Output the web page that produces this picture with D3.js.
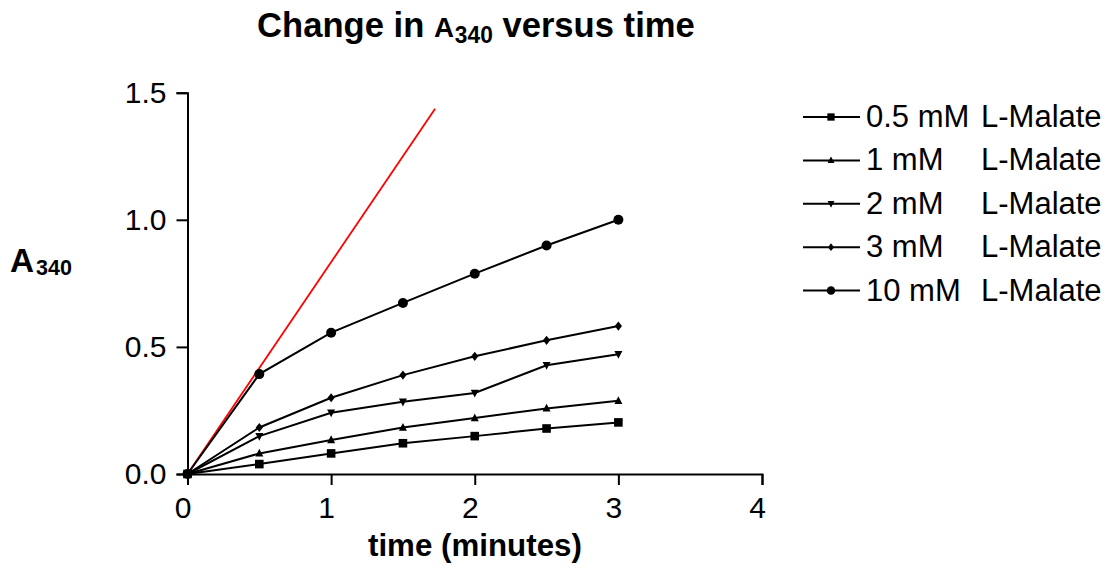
<!DOCTYPE html>
<html><head><meta charset="utf-8">
<script src="https://cdn.jsdelivr.net/npm/d3@7"></script>
<style>body{margin:0;background:#fff}svg{display:block}text{font-family:"Liberation Sans",Arial,sans-serif}</style>
</head><body>
<svg id="c" width="1109" height="568"></svg>
<script>
const times = [0, 0.5, 1, 1.5, 2, 2.5, 3];
const s05 = [0, 0.039, 0.081, 0.121, 0.149, 0.179, 0.203];
const s1  = [0, 0.081, 0.134, 0.183, 0.220, 0.258, 0.288];
const s2  = [0, 0.149, 0.241, 0.284, 0.319, 0.428, 0.471];
const s3  = [0, 0.183, 0.300, 0.389, 0.463, 0.526, 0.582];
const s10 = [0, 0.393, 0.556, 0.673, 0.788, 0.899, 1.000];
const seriesNames = ["0.5 mM", "1 mM", "2 mM", "3 mM", "10 mM"];
const seriesSuffix = "L-Malate";
const seriesValues = [s05, s1, s2, s3, s10];
const seriesSymbols = ["square", "triangle", "invtriangle", "diamond", "circle"];
const redLineX = [0, 1.724];
const redLineY = [0, 1.437];
const xTicks = [0, 1, 2, 3, 4];
const yTicks = [0, 0.5, 1.0, 1.5];

const svg = d3.select("#c");
const L = 187.5, R = 762, T = 92.7, B = 474;
const x = d3.scaleLinear().domain([0, 4]).range([L, R]);
const y = d3.scaleLinear().domain([0, 1.5]).range([B, T]);

function fitX(sel, x0, w) {
  const bb = sel.node().getBBox();
  const k = w / bb.width;
  const shift = x0 - bb.x * k;
  sel.attr("transform", `translate(${shift},0) scale(${k},1)`);
}

// title
const title = svg.append("text").attr("x", 257).attr("y", 37)
  .attr("font-weight", "bold").attr("font-size", 35);
title.append("tspan").text("Change in ");
title.append("tspan").attr("font-size", 28).text("A");
title.append("tspan").attr("font-size", 23).attr("dy", 6).attr("dx", 1).text("340");
title.append("tspan").attr("dy", -6).text(" versus time");
fitX(title, 257, 438);

// axes
const xAxis = svg.append("g").attr("transform", `translate(0,${B})`)
  .call(d3.axisBottom(x).tickValues(xTicks).tickFormat(d3.format("d")).tickSizeOuter(0).tickSize(11).tickPadding(12));
const yAxis = svg.append("g").attr("transform", `translate(${L},0)`)
  .call(d3.axisLeft(y).tickValues(yTicks).tickFormat(d3.format(".1f")).tickSizeOuter(0).tickSize(11).tickPadding(10));
[xAxis, yAxis].forEach(g => {
  g.select(".domain").attr("stroke", "#000").attr("stroke-width", 2);
  g.selectAll(".tick line").attr("stroke", "#000").attr("stroke-width", 2);
  g.selectAll(".tick text").attr("font-size", 30).attr("fill", "#000")
    .style("font-family", '"Liberation Sans",Arial,sans-serif');
});
xAxis.selectAll(".tick text").attr("dx", -5);

// axis titles
const xt = svg.append("text").attr("x", 368).attr("y", 556)
  .attr("font-weight", "bold").attr("font-size", 31).text("time (minutes)");
fitX(xt, 368, 214);
const yl = svg.append("text").attr("x", 10).attr("y", 272).attr("font-weight", "bold").attr("font-size", 34);
yl.append("tspan").text("A");
yl.append("tspan").attr("font-size", 22).attr("dy", 3).attr("dx", 2).text("340");
fitX(yl, 10, 62);

// red line
svg.append("line").attr("x1", x(redLineX[0])).attr("y1", y(redLineY[0]))
  .attr("x2", x(redLineX[1])).attr("y2", y(redLineY[1]))
  .attr("stroke", "#ff0000").attr("stroke-width", 1.8);

function symbolPath(kind, s) {
  switch (kind) {
    case "square": return `M${-s},${-s}H${s}V${s}H${-s}Z`;
    case "triangle": return `M0,${-s * 1.15}L${s},${s * 0.8}L${-s},${s * 0.8}Z`;
    case "invtriangle": return `M0,${s * 1.15}L${s},${-s * 0.8}L${-s},${-s * 0.8}Z`;
    case "diamond": return `M0,${-s * 1.15}L${s * 0.9},0L0,${s * 1.15}L${-s * 0.9},0Z`;
    case "circle": return `M${s},0A${s},${s} 0 1,1 ${-s},0A${s},${s} 0 1,1 ${s},0Z`;
  }
}
const sizes = {square: 4.3, triangle: 4, invtriangle: 4, diamond: 4, circle: 5};

const line = d3.line().x((d, i) => x(times[i])).y(d => y(d));
seriesValues.forEach((vals, k) => {
  svg.append("path").attr("d", line(vals)).attr("fill", "none").attr("stroke", "#000").attr("stroke-width", 2);
  svg.selectAll(null).data(vals).enter().append("path")
    .attr("transform", (d, i) => `translate(${x(times[i])},${y(d)})`)
    .attr("d", symbolPath(seriesSymbols[k], sizes[seriesSymbols[k]])).attr("fill", "#000");
});

// legend
const legY = d3.scaleLinear().domain([0, 4]).range([117, 290.5]);
seriesNames.forEach((n, k) => {
  const yy = legY(k);
  svg.append("line").attr("x1", 803).attr("x2", 860).attr("y1", yy).attr("y2", yy)
    .attr("stroke", "#000").attr("stroke-width", 2);
  svg.append("path").attr("transform", `translate(831,${yy})`)
    .attr("d", symbolPath(seriesSymbols[k], sizes[seriesSymbols[k]] * 0.85)).attr("fill", "#000");
  svg.append("text").attr("x", 866).attr("y", yy + 10).attr("font-size", 31).text(n);
  svg.append("text").attr("x", 981).attr("y", yy + 10).attr("font-size", 31).text(seriesSuffix);
});
</script>
</body></html>
